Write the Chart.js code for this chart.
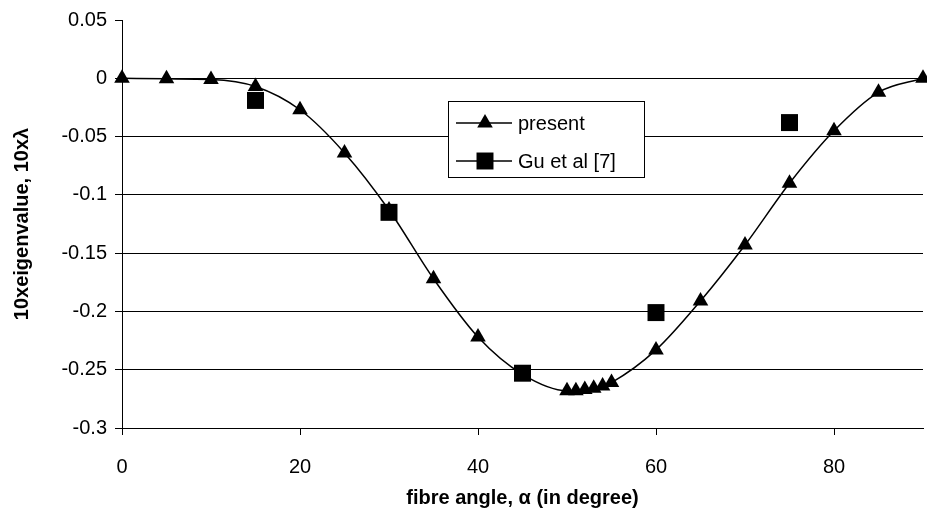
<!DOCTYPE html>
<html>
<head>
<meta charset="utf-8">
<script src="https://cdn.jsdelivr.net/npm/chart.js@4/dist/chart.umd.min.js"></script>
<style>
  html, body { margin: 0; padding: 0; background: #fff; }
  #wrap { width: 927px; height: 518px; }
</style>
</head>
<body>
<div id="wrap"><canvas id="chart" width="927" height="518"></canvas></div>
<script>
// fibre angle (degrees)
const presentAngles = [0, 5, 10, 15, 20, 25, 30, 35, 40, 45, 50, 51, 52, 53, 54, 55, 60, 65, 70, 75, 80, 85, 90];
// 10 x eigenvalue, present study
const presentValues = [0, -0.0005, -0.001, -0.007, -0.027, -0.064, -0.113, -0.172, -0.222, -0.254, -0.268, -0.268, -0.267, -0.266, -0.264, -0.261, -0.233, -0.191, -0.143, -0.09, -0.045, -0.012, 0];
// Gu et al [7]
const guAngles = [15, 30, 45, 60, 75];
const guValues = [-0.019, -0.115, -0.253, -0.201, -0.038];

const xTicks = [0, 20, 40, 60, 80];
const yTicks = [0.05, 0, -0.05, -0.1, -0.15, -0.2, -0.25, -0.3];

const font = 'Liberation Sans, Arial, sans-serif';

const toPoints = (xs, ys) => xs.map((x, i) => ({ x: x, y: ys[i] }));

// legend box drawn inside the plot area
const boxLegend = {
  id: 'boxLegend',
  afterDraw(chart) {
    const ctx = chart.ctx;
    const x0 = 448, y0 = 101, w = 196, h = 76;
    ctx.save();
    ctx.fillStyle = '#fff';
    ctx.fillRect(x0, y0, w, h);
    ctx.strokeStyle = '#000';
    ctx.lineWidth = 1;
    ctx.strokeRect(x0 + 0.5, y0 + 0.5, w, h);
    chart.data.datasets.forEach((ds, i) => {
      const cy = y0 + 22 + i * 38;
      ctx.strokeStyle = '#000';
      ctx.lineWidth = 1.5;
      ctx.beginPath();
      ctx.moveTo(x0 + 8, cy);
      ctx.lineTo(x0 + 64, cy);
      ctx.stroke();
      ctx.fillStyle = '#000';
      Chart.helpers.drawPoint(ctx, { pointStyle: ds.pointStyle, radius: ds.pointRadius, borderWidth: 0 }, x0 + 37, cy);
      ctx.fillStyle = '#000';
      ctx.font = '20px ' + font;
      ctx.textBaseline = 'middle';
      ctx.fillText(ds.label, x0 + 70, cy + 1);
    });
    ctx.restore();
  }
};

new Chart(document.getElementById('chart'), {
  type: 'scatter',
  data: {
    datasets: [{
      label: 'present',
      data: toPoints(presentAngles, presentValues),
      showLine: true,
      borderColor: '#000',
      borderWidth: 1.5,
      backgroundColor: '#000',
      pointStyle: 'triangle',
      pointRadius: 9,
      pointBorderWidth: 0,
      cubicInterpolationMode: 'monotone',
      clip: false
    }, {
      label: 'Gu et al [7]',
      data: toPoints(guAngles, guValues),
      showLine: false,
      borderColor: '#000',
      backgroundColor: '#000',
      pointStyle: 'rect',
      pointRadius: 12,
      pointBorderWidth: 0,
      clip: false
    }]
  },
  options: {
    responsive: false,
    animation: false,
    layout: { autoPadding: false, padding: { top: 11, right: 4, bottom: 0, left: 0 } },
    plugins: {
      legend: { display: false },
      tooltip: { enabled: false }
    },
    scales: {
      x: {
        type: 'linear',
        min: 0,
        max: 90,
        afterBuildTicks: s => { s.ticks = xTicks.map(v => ({ value: v })); },
        afterFit: s => { s.height = 90; },
        grid: { drawOnChartArea: false, drawTicks: true, tickLength: 7, tickColor: '#000' },
        border: { color: '#000', width: 1 },
        ticks: { color: '#000', font: { family: font, size: 20 }, padding: 20, maxRotation: 0 },
        title: { display: true, text: 'fibre angle, α (in degree)', color: '#000', font: { family: font, size: 20, weight: 'bold' }, padding: { top: 4, bottom: 8 } }
      },
      y: {
        min: -0.3,
        max: 0.05,
        afterBuildTicks: s => { s.ticks = yTicks.map(v => ({ value: v })); },
        afterFit: s => { s.width = 122; },
        grid: {
          color: c => (c.tick && c.tick.value > 0.01) ? 'rgba(0,0,0,0)' : '#000',
          lineWidth: 1,
          tickColor: '#000',
          tickLength: 7
        },
        border: { color: '#000', width: 1 },
        ticks: {
          color: '#000',
          font: { family: font, size: 20 },
          padding: 8,
          callback: v => String(Math.round(v * 100) / 100)
        },
        title: { display: true, text: '10xeigenvalue, 10xλ', color: '#000', font: { family: font, size: 20, weight: 'bold' }, padding: { top: 10, bottom: 4 } }
      }
    }
  },
  plugins: [boxLegend]
});
</script>
</body>
</html>
